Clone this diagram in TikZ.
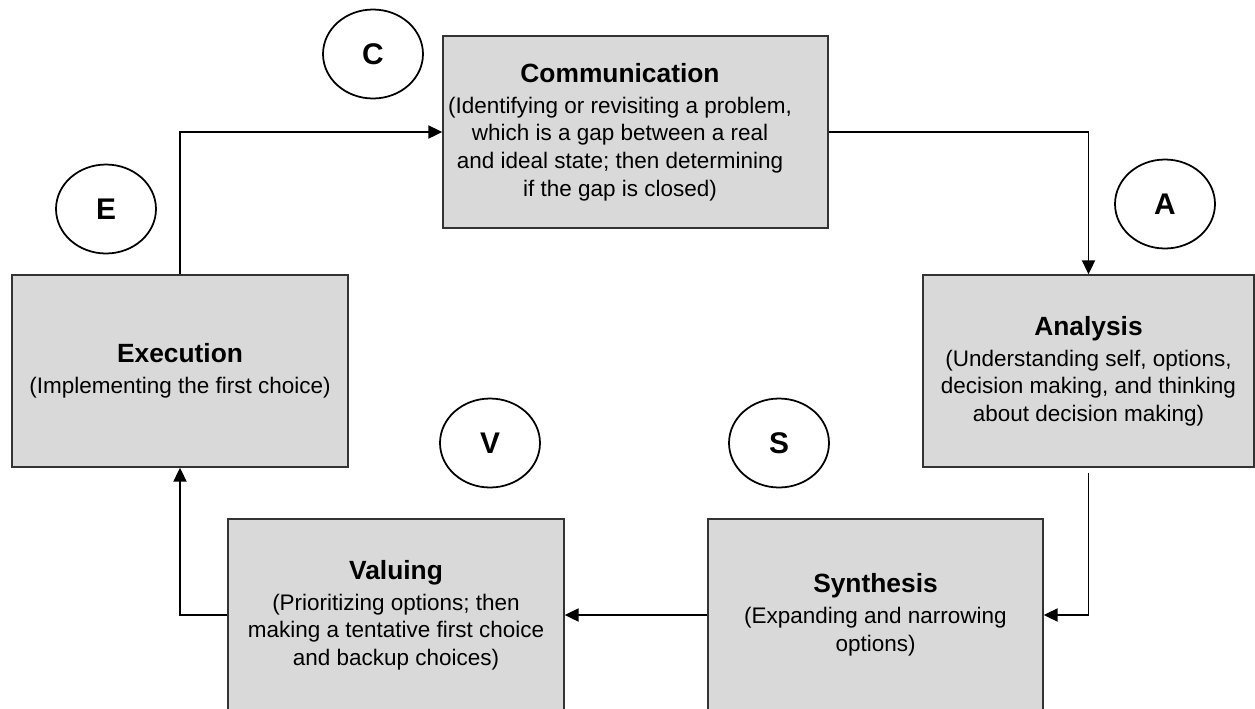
\documentclass[tikz,border=0pt]{standalone}
\usepackage{fontspec}
\setmainfont{Liberation Sans}
\usetikzlibrary{arrows.meta,shapes.geometric}

\tikzset{
  stagebox/.style={draw=black!80, line width=0.8pt, fill=black!15,
    minimum width=6.72cm, minimum height=3.84cm, inner sep=0pt},
  stagetext/.style={align=center, inner sep=0pt, font=\fontsize{12.8}{15.7}\selectfont},
  letter/.style={draw, ellipse, line width=1pt, minimum width=2cm, minimum height=1.78cm,
    inner sep=0pt, font=\fontsize{17}{20}\selectfont\bfseries},
  flow/.style={line width=1.1pt, -{Triangle[length=0.28cm,width=0.26cm]}}
}
\newcommand\stagetitle[1]{{\fontsize{15}{18}\selectfont\bfseries #1}\\[2pt]}

\begin{document}
\begin{tikzpicture}[x=0.02cm,y=-0.02cm]
	\clip (0,0) rectangle (1255,708);

	% the five stages
	\node[stagebox, minimum width=7.7cm] (comm) at (635.5,132) {};
	\node[stagetext] (commtext) at (620,132) {\stagetitle{Communication}(Identifying or revisiting a problem,\\which is a gap between a real\\and ideal state; then determining\\if the gap is closed)};
	\node[stagebox, stagetext, minimum width=6.62cm] (ana) at (1088.5,371) {\stagetitle{Analysis}(Understanding self, options,\\decision making, and thinking\\about decision making)};
	\node[stagebox, stagetext, minimum width=6.7cm] (syn) at (875.5,615) {\stagetitle{Synthesis}(Expanding and narrowing\\options)};
	\node[stagebox, stagetext] (val) at (396,615) {\stagetitle{Valuing}(Prioritizing options; then\\making a tentative first choice\\and backup choices)};
	\node[stagebox, stagetext] (exec) at (180,371) {\stagetitle{Execution}(Implementing the first choice)};

	% letters
	\node[letter] (c) at (373,54) {C};
	\node[letter] (a) at (1165,204) {A};
	\node[letter] (s) at (779,443) {S};
	\node[letter] (v) at (490,443) {V};
	\node[letter] (e) at (106,209) {E};

	% cycle
	\draw[flow] (exec.north) |- (comm.west);
	\draw[flow] (comm.east) -| (ana.north);
	\draw[flow] ([yshift=-0.1cm]ana.south) |- (syn.east);
	\draw[flow] (syn.west) -- (val.east);
	\draw[flow] (val.west) -| (exec.south);
\end{tikzpicture}
\end{document}
